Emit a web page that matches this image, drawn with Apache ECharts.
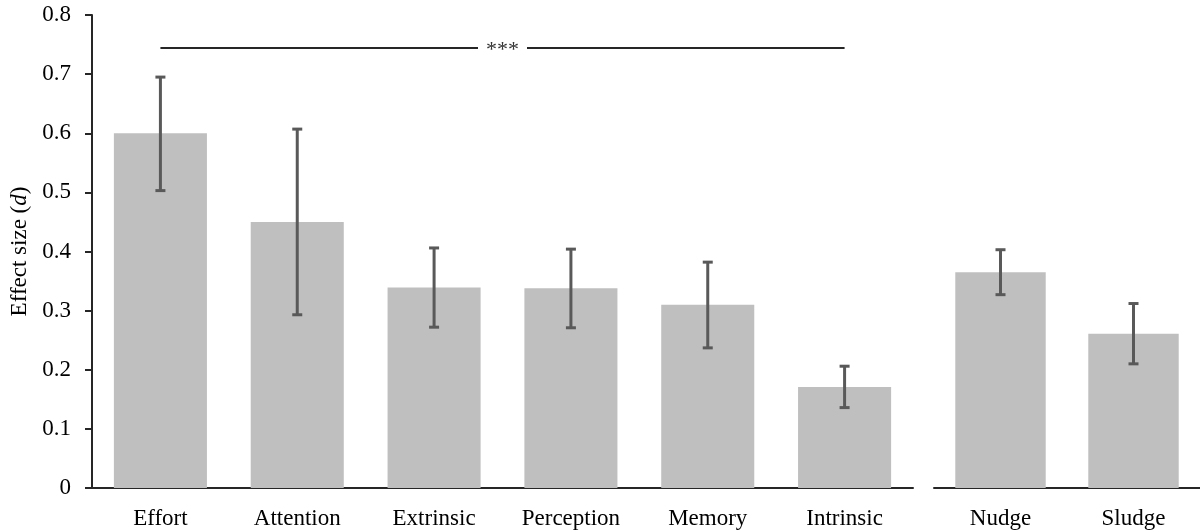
<!DOCTYPE html>
<html>
<head>
<meta charset="utf-8">
<script src="https://cdn.jsdelivr.net/npm/echarts@6/dist/echarts.min.js"></script>
<style>
html,body{margin:0;padding:0;background:#fff;}
#chart{width:1200px;height:531px;}
</style>
</head>
<body>
<div id="chart"></div>
<script>
// ---- data ----
var categoriesMain = ['Effort', 'Attention', 'Extrinsic', 'Perception', 'Memory', 'Intrinsic'];
var valuesMain = [0.600, 0.450, 0.339, 0.338, 0.310, 0.171];
var lowerMain = [0.503, 0.293, 0.272, 0.271, 0.237, 0.136];
var upperMain = [0.695, 0.607, 0.406, 0.404, 0.382, 0.206];

var categoriesSide = ['Nudge', 'Sludge'];
var valuesSide = [0.365, 0.261];
var lowerSide = [0.327, 0.210];
var upperSide = [0.403, 0.312];

var yMin = 0, yMax = 0.8, yInterval = 0.1;
var sigLevel = 0.744;
var sigLabel = '***';
var yTitle = 'Effect size ({i|d})';

// ---- styles ----
var FONT = '"Liberation Serif", "DejaVu Serif", serif';
var FS = 23;
var BAR_COLOR = '#bfbfbf';
var ERR_COLOR = '#595959';
var AXIS_COLOR = '#262626';

function errData(cats, lo, hi) {
  return cats.map(function (c, i) { return [i, lo[i], hi[i]]; });
}

function renderErr(params, api) {
  var x = api.value(0);
  var top = api.coord([x, api.value(2)]);
  var bot = api.coord([x, api.value(1)]);
  var half = 5;
  var st = { stroke: ERR_COLOR, lineWidth: 3 };
  return {
    type: 'group',
    children: [
      { type: 'line', shape: { x1: top[0], y1: top[1], x2: bot[0], y2: bot[1] }, style: st },
      { type: 'line', shape: { x1: top[0] - half, y1: top[1], x2: top[0] + half, y2: top[1] }, style: st },
      { type: 'line', shape: { x1: bot[0] - half, y1: bot[1], x2: bot[0] + half, y2: bot[1] }, style: st }
    ]
  };
}

var catAxisCommon = {
  type: 'category',
  axisLine: { show: true, lineStyle: { color: AXIS_COLOR, width: 2 } },
  axisTick: { show: false },
  axisLabel: { color: '#000', fontFamily: FONT, fontSize: FS, margin: 19 },
  splitLine: { show: false }
};

var chart = echarts.init(document.getElementById('chart'), null, { renderer: 'canvas' });
chart.setOption({
  backgroundColor: '#fff',
  animation: false,
  grid: [
    { left: 90, top: 15, width: 823, height: 473 },
    { left: 934, top: 15, width: 274, height: 473 }
  ],
  xAxis: [
    Object.assign({ gridIndex: 0, data: categoriesMain }, catAxisCommon),
    Object.assign({ gridIndex: 1, data: categoriesSide }, catAxisCommon)
  ],
  yAxis: [
    {
      type: 'value', gridIndex: 0, min: yMin, max: yMax, interval: yInterval,
      name: yTitle, nameLocation: 'middle', nameGap: 61, nameRotate: 90,
      nameTextStyle: {
        color: '#000', fontFamily: FONT, fontSize: FS,
        rich: { i: { fontStyle: 'italic', fontFamily: FONT, fontSize: FS, color: '#000' } }
      },
      axisLine: { show: true, lineStyle: { color: AXIS_COLOR, width: 2 } },
      axisTick: { show: true, inside: false, length: 7, lineStyle: { color: AXIS_COLOR, width: 2 } },
      axisLabel: { color: '#000', fontFamily: FONT, fontSize: FS, margin: 21 },
      splitLine: { show: false }
    },
    {
      type: 'value', gridIndex: 1, min: yMin, max: yMax, interval: yInterval,
      show: false, splitLine: { show: false }
    }
  ],
  series: [
    {
      type: 'bar', xAxisIndex: 0, yAxisIndex: 0, data: valuesMain,
      barWidth: '68%', itemStyle: { color: BAR_COLOR },
      markLine: {
        silent: true, symbol: 'none',
        lineStyle: { color: AXIS_COLOR, width: 2, type: 'solid' },
        label: {
          show: true, position: 'middle', formatter: sigLabel,
          fontFamily: FONT, fontSize: 22, color: '#333',
          backgroundColor: '#fff', padding: [0, 8, 0, 8], offset: [0, 18]
        },
        data: [[
          { coord: [categoriesMain[0], sigLevel] },
          { coord: [categoriesMain[categoriesMain.length - 1], sigLevel] }
        ]]
      }
    },
    {
      type: 'custom', xAxisIndex: 0, yAxisIndex: 0, renderItem: renderErr,
      data: errData(categoriesMain, lowerMain, upperMain), z: 5
    },
    {
      type: 'bar', xAxisIndex: 1, yAxisIndex: 1, data: valuesSide,
      barWidth: '68%', itemStyle: { color: BAR_COLOR }
    },
    {
      type: 'custom', xAxisIndex: 1, yAxisIndex: 1, renderItem: renderErr,
      data: errData(categoriesSide, lowerSide, upperSide), z: 5
    }
  ]
});
</script>
</body>
</html>
